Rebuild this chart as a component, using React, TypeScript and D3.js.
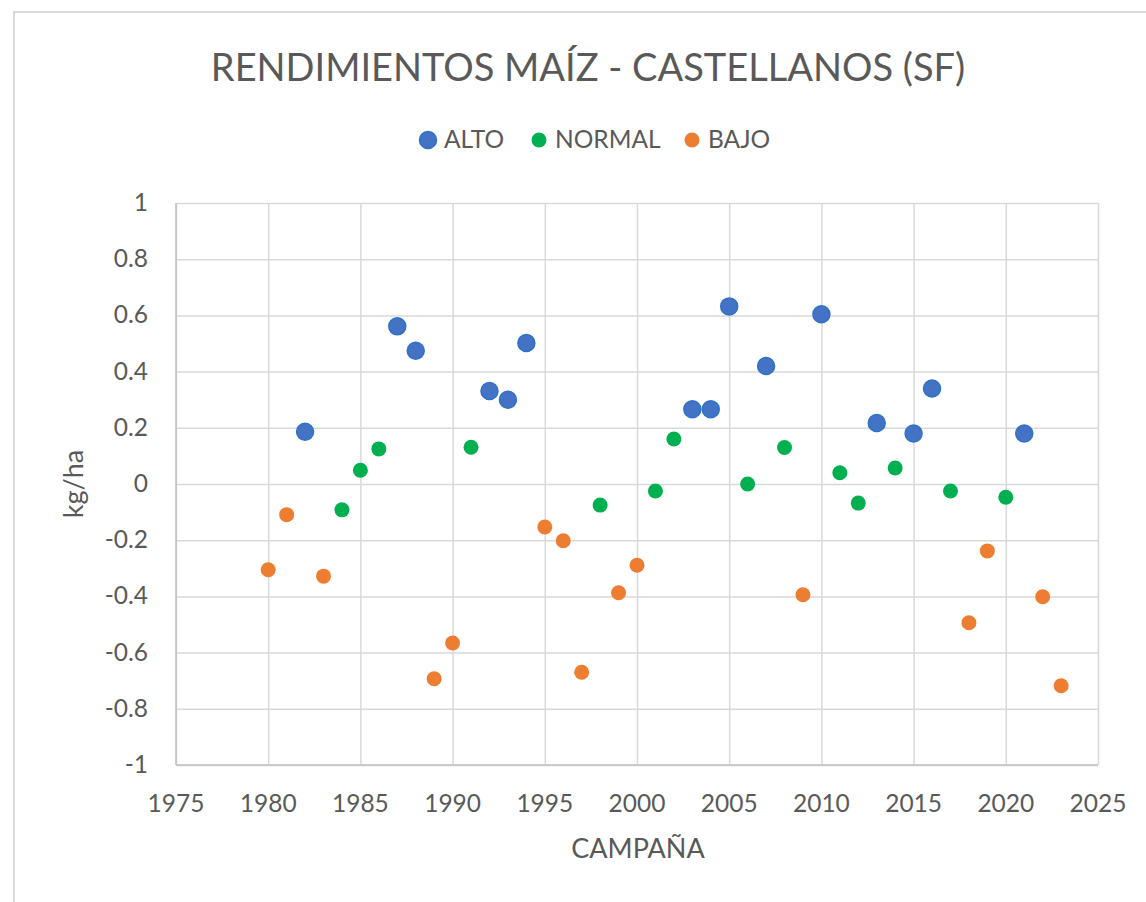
import React, { useEffect, useRef } from "react";
import * as d3 from "d3";

// CAMPAÑA years and kg/ha values per class
const altoYears = [1982, 1987, 1988, 1992, 1993, 1994, 2003, 2004, 2005, 2007, 2010, 2013, 2015, 2016, 2021];
const altoValues = [0.186, 0.561, 0.474, 0.331, 0.3, 0.502, 0.266, 0.266, 0.632, 0.42, 0.604, 0.217, 0.18, 0.34, 0.18];

const normalYears = [1984, 1985, 1986, 1991, 1998, 2001, 2002, 2006, 2008, 2011, 2012, 2014, 2017, 2020];
const normalValues = [-0.092, 0.049, 0.125, 0.131, -0.075, -0.025, 0.16, 0.0, 0.13, 0.04, -0.068, 0.057, -0.025, -0.047];

const bajoYears = [1980, 1981, 1983, 1989, 1990, 1995, 1996, 1997, 1999, 2000, 2009, 2018, 2019, 2022, 2023];
const bajoValues = [-0.305, -0.109, -0.328, -0.693, -0.566, -0.153, -0.202, -0.67, -0.387, -0.289, -0.394, -0.494, -0.238, -0.401, -0.718];

const xTicks = [1975, 1980, 1985, 1990, 1995, 2000, 2005, 2010, 2015, 2020, 2025];
const yTicks = [-1, -0.8, -0.6, -0.4, -0.2, 0, 0.2, 0.4, 0.6, 0.8, 1];

const series = [
  { name: "ALTO", years: altoYears, values: altoValues, fill: "#4472c4", stroke: "#2f72c6", r: 8.5 },
  { name: "NORMAL", years: normalYears, values: normalValues, fill: "#00b050", stroke: "none", r: 7.5 },
  { name: "BAJO", years: bajoYears, values: bajoValues, fill: "#ed7d31", stroke: "none", r: 7.5 },
];

const App = () => {
  const ref = useRef<SVGSVGElement>(null);

  useEffect(() => {
    const width = 1146;
    const height = 902;
    const margin = { top: 203, right: 48, bottom: 137, left: 176 };
    const font = "Lato, 'Open Sans', sans-serif";
    const textColor = "#595959";
    const gridColor = "#d9d9d9";

    const svg = d3.select(ref.current);
    svg.selectAll("*").remove();

    // outer chart frame, cut off on the right and bottom
    svg
      .append("rect")
      .attr("x", 14)
      .attr("y", 12)
      .attr("width", width)
      .attr("height", height)
      .attr("fill", "#fff")
      .attr("stroke", gridColor)
      .attr("stroke-width", 2);

    var x = d3
      .scaleLinear()
      .domain([1975, 2025])
      .range([margin.left, width - margin.right]);

    var y = d3
      .scaleLinear()
      .domain([-1, 1])
      .range([height - margin.bottom, margin.top]);

    // grid
    svg
      .append("g")
      .call(d3.axisBottom(x).tickValues(xTicks).tickSize(-(y(-1) - y(1))).tickFormat(() => ""))
      .attr("transform", `translate(0,${y(-1)})`)
      .call((g) => g.select(".domain").remove())
      .call((g) => g.selectAll(".tick line").attr("stroke", gridColor).attr("stroke-width", 1.5));

    svg
      .append("g")
      .call(d3.axisLeft(y).tickValues(yTicks).tickSize(-(x(2025) - x(1975))).tickFormat(() => ""))
      .attr("transform", `translate(${x(1975)},0)`)
      .call((g) => g.select(".domain").remove())
      .call((g) => g.selectAll(".tick line").attr("stroke", gridColor).attr("stroke-width", 1.5));

    // axis lines
    svg
      .append("line")
      .attr("x1", x(1975))
      .attr("x2", x(1975))
      .attr("y1", y(1))
      .attr("y2", y(-1))
      .attr("stroke", "#bfbfbf")
      .attr("stroke-width", 1.5);
    svg
      .append("line")
      .attr("x1", x(1975))
      .attr("x2", x(2025))
      .attr("y1", y(-1))
      .attr("y2", y(-1))
      .attr("stroke", "#bfbfbf")
      .attr("stroke-width", 1.5);

    // tick labels
    svg
      .append("g")
      .selectAll("text")
      .data(xTicks)
      .join("text")
      .attr("x", (d) => x(d))
      .attr("y", y(-1) + 47)
      .attr("text-anchor", "middle")
      .attr("font-family", font)
      .attr("font-size", 24.5)
      .attr("fill", textColor)
      .text((d) => d);

    svg
      .append("g")
      .selectAll("text")
      .data(yTicks)
      .join("text")
      .attr("x", x(1975) - 28)
      .attr("y", (d) => y(d) + 8)
      .attr("text-anchor", "end")
      .attr("font-family", font)
      .attr("font-size", 24.5)
      .attr("fill", textColor)
      .text((d) => String(d));

    // points
    series.forEach((s) => {
      svg
        .append("g")
        .selectAll("circle")
        .data(s.years.map((yr, i) => ({ yr, v: s.values[i] })))
        .join("circle")
        .attr("cx", (d) => x(d.yr))
        .attr("cy", (d) => y(d.v))
        .attr("r", s.r)
        .attr("fill", s.fill)
        .attr("stroke", s.stroke)
        .attr("stroke-width", 1.5);
    });

    // title
    svg
      .append("text")
      .attr("x", 588)
      .attr("y", 81)
      .attr("text-anchor", "middle")
      .attr("font-family", font)
      .attr("font-size", 38)
      .attr("fill", textColor)
      .text("RENDIMIENTOS MAÍZ - CASTELLANOS (SF)");

    // legend
    const legendX = [428, 539, 692];
    series.forEach((s, i) => {
      svg
        .append("circle")
        .attr("cx", legendX[i])
        .attr("cy", 140)
        .attr("r", s.r)
        .attr("fill", s.fill)
        .attr("stroke", s.stroke)
        .attr("stroke-width", 1.5);
      svg
        .append("text")
        .attr("x", legendX[i] + 16)
        .attr("y", 148)
        .attr("font-family", font)
        .attr("font-size", 24.5)
        .attr("fill", textColor)
        .text(s.name);
    });

    // axis titles
    svg
      .append("text")
      .attr("x", 638)
      .attr("y", 858)
      .attr("text-anchor", "middle")
      .attr("font-family", font)
      .attr("font-size", 27)
      .attr("fill", textColor)
      .text("CAMPAÑA");

    svg
      .append("text")
      .attr("transform", `translate(83,${y(0)}) rotate(-90)`)
      .attr("text-anchor", "middle")
      .attr("font-family", font)
      .attr("font-size", 27)
      .attr("fill", textColor)
      .text("kg/ha");
  }, []);

  return (
    <div id="app">
      <svg
        ref={ref}
        width={1146}
        height={902}
        style={{ position: "absolute", left: 0, top: 0, display: "block" }}
      ></svg>
    </div>
  );
};

export default App;
